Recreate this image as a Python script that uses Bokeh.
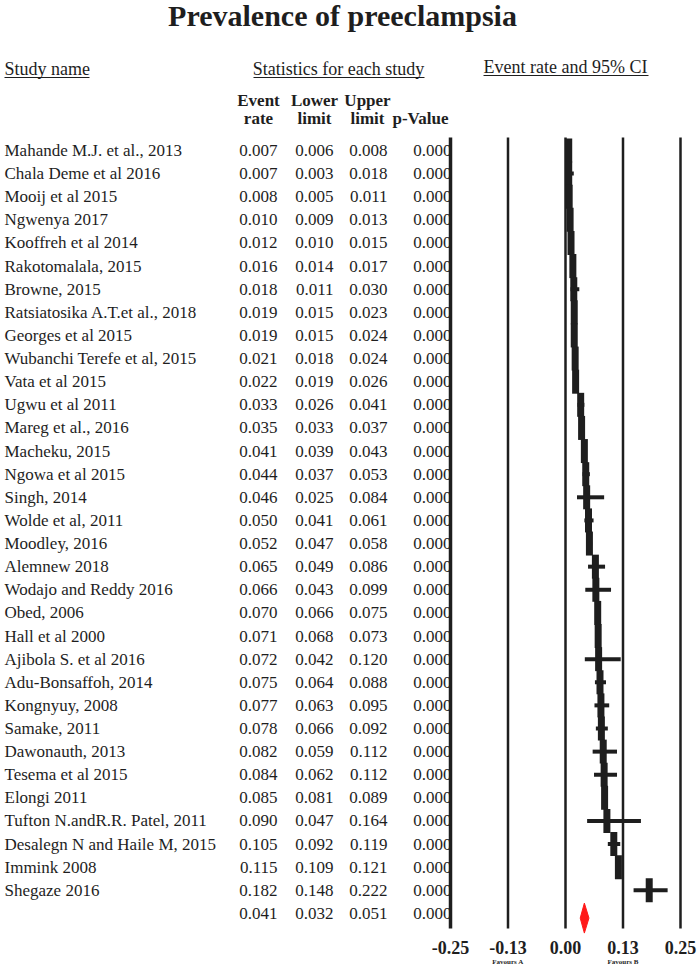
from bokeh.plotting import figure
from bokeh.models import Range1d, FixedTicker, LinearAxis
from bokeh.embed import file_html
from bokeh.resources import INLINE
from bokeh.core.properties import value

# ---------------- data ----------------
studies = [
    "Mahande M.J. et al., 2013", "Chala Deme et al 2016", "Mooij et al 2015",
    "Ngwenya 2017", "Kooffreh et al 2014", "Rakotomalala, 2015", "Browne, 2015",
    "Ratsiatosika A.T.et al., 2018", "Georges et al 2015",
    "Wubanchi Terefe et al, 2015", "Vata et al 2015", "Ugwu et al 2011",
    "Mareg et al., 2016", "Macheku, 2015", " Ngowa et al 2015", "Singh, 2014",
    "Wolde et al, 2011", "Moodley, 2016", "Alemnew 2018", "Wodajo and Reddy 2016",
    "Obed, 2006", "Hall et al 2000", "Ajibola S. et al 2016", "Adu-Bonsaffoh, 2014",
    "Kongnyuy, 2008", "Samake, 2011", "Dawonauth, 2013", "Tesema et al 2015",
    "Elongi 2011", "Tufton N.andR.R. Patel, 2011", "Desalegn N and Haile M, 2015",
    "Immink 2008", "Shegaze 2016",
]
event_rate = [0.007, 0.007, 0.008, 0.010, 0.012, 0.016, 0.018, 0.019, 0.019, 0.021,
              0.022, 0.033, 0.035, 0.041, 0.044, 0.046, 0.050, 0.052, 0.065, 0.066,
              0.070, 0.071, 0.072, 0.075, 0.077, 0.078, 0.082, 0.084, 0.085, 0.090,
              0.105, 0.115, 0.182]
lower_limit = [0.006, 0.003, 0.005, 0.009, 0.010, 0.014, 0.011, 0.015, 0.015, 0.018,
               0.019, 0.026, 0.033, 0.039, 0.037, 0.025, 0.041, 0.047, 0.049, 0.043,
               0.066, 0.068, 0.042, 0.064, 0.063, 0.066, 0.059, 0.062, 0.081, 0.047,
               0.092, 0.109, 0.148]
upper_limit = [0.008, 0.018, 0.011, 0.013, 0.015, 0.017, 0.030, 0.023, 0.024, 0.024,
               0.026, 0.041, 0.037, 0.043, 0.053, 0.084, 0.061, 0.058, 0.086, 0.099,
               0.075, 0.073, 0.120, 0.088, 0.095, 0.092, 0.112, 0.112, 0.089, 0.164,
               0.119, 0.121, 0.222]
p_value = ["0.000", "0.000", "0.000", "0.000", "0.000", "0.000", "0.000", "0.000",
           "0.000", "0.000", "0.000", "0.000", "0.000", "0.000", "0.000", "0.000",
           "0.000", "0.000", "0.000", "0.000", "0.000", "0.000", "0.000", "0.000",
           "0.000", "0.000", "0.000", "0.000", "0.000", "0.000", "0.000", "0.000",
           "0.000"]
summary_rate = 0.041
summary_lower = 0.032
summary_upper = 0.051
summary_p = "0.000"

tick_values = [-0.25, -0.125, 0.0, 0.125, 0.25]
tick_labels = ["-0.25", "-0.13", "0.00", "0.13", "0.25"]
favours_values = [-0.125, 0.125]
favours_labels = ["Favours A", "Favours B"]

# ---------------- layout helpers ----------------
FONT = "Liberation Serif"
INK = "#1e1e1e"
W, H = 699, 970
X0_PX, X_SCALE = 565.0, 460.0      # page px of value 0, px per unit
Y0_PX, ROW_PX = 150.0, 23.12       # page px of first row, px per row


def X(px):
    return (px - X0_PX) / X_SCALE


def Y(py):
    return (py - Y0_PX) / ROW_PX


frame_bottom_px = 934
lines_bottom_px = 928
p = figure(width=W, height=H, output_backend="svg", toolbar_location=None,
           x_range=Range1d(X(0), X(W)),
           y_range=Range1d(Y(frame_bottom_px), Y(0)),
           min_border_left=0, min_border_right=0, min_border_top=0,
           min_border_bottom=H - frame_bottom_px,
           x_axis_location="below", y_axis_location=None)
p.outline_line_color = None
p.xgrid.visible = False
p.ygrid.visible = False
p.background_fill_color = "white"
p.border_fill_color = "white"


def style_axis(ax, ticks, labels, size, standoff):
    ax.ticker = FixedTicker(ticks=ticks)
    ax.major_label_overrides = {v: s for v, s in zip(ticks, labels)}
    ax.axis_line_color = None
    ax.major_tick_line_color = None
    ax.minor_tick_line_color = None
    ax.major_tick_in = 0
    ax.major_tick_out = 0
    ax.major_label_text_font = FONT
    ax.major_label_text_font_style = "bold"
    ax.major_label_text_font_size = size
    ax.major_label_text_color = INK
    ax.major_label_standoff = standoff


style_axis(p.xaxis[0], tick_values, tick_labels, "18px", 6)
fav_axis = LinearAxis()
style_axis(fav_axis, favours_values, favours_labels, "7px", 1)
p.add_layout(fav_axis, "below")

n = len(studies)
rows = list(range(n))
sum_row = n

# title
p.text(x=[X(342)], y=[Y(15)], text=["Prevalence of preeclampsia"],
       text_font=value(FONT), text_font_style="bold", text_font_size="30px",
       text_align="center", text_baseline="middle", text_color=INK)

# group headers
hdr_kw = dict(text_font=value(FONT), text_font_size="18px", text_baseline="middle",
              text_color=INK)
p.text(x=[X(4)], y=[Y(68)], text=["Study name"], text_align="left", **hdr_kw)
p.text(x=[X(338)], y=[Y(68)], text=["Statistics for each study"], text_align="center", **hdr_kw)
p.text(x=[X(565)], y=[Y(66)], text=["Event rate and 95% CI"], text_align="center", **hdr_kw)
p.segment(x0=[X(4), X(253), X(483)], y0=[Y(77), Y(77), Y(75)],
          x1=[X(89), X(424), X(648)], y1=[Y(77), Y(77), Y(75)],
          line_color=INK, line_width=1)

# column headers (bold)
col_kw = dict(text_font=value(FONT), text_font_size="17px", text_font_style="bold",
              text_baseline="middle", text_color=INK, text_align="center")
p.text(x=[X(258), X(314), X(367)], y=[Y(100)] * 3, text=["Event", "Lower", "Upper"], **col_kw)
p.text(x=[X(258), X(314), X(367), X(420)], y=[Y(118)] * 4,
       text=["rate", "limit", "limit", "p-Value"], **col_kw)

# table body
body_kw = dict(text_font=value(FONT), text_font_size="17px", text_baseline="middle",
               text_color=INK)
p.text(x=[X(4)] * n, y=rows, text=studies, text_align="left", **body_kw)
all_rows = rows + [sum_row]
cols = [
    ([f"{v:.3f}" for v in event_rate + [summary_rate]], X(277)),
    ([f"{v:.3f}" for v in lower_limit + [summary_lower]], X(333)),
    ([f"{v:.3f}" for v in upper_limit + [summary_upper]], X(387)),
    (p_value + [summary_p], X(451)),
]
for txt, xr in cols:
    p.text(x=[xr] * len(txt), y=all_rows, text=txt, text_align="right", **body_kw)

# reference lines
p.segment(x0=tick_values[1:], y0=[Y(137)] * 4, x1=tick_values[1:], y1=[Y(lines_bottom_px)] * 4,
          line_color=INK, line_width=2.5)
p.segment(x0=[tick_values[0]], y0=[Y(137)], x1=[tick_values[0]], y1=[Y(lines_bottom_px)],
          line_color=INK, line_width=3.5)

# confidence intervals and point markers
p.segment(x0=lower_limit, y0=rows, x1=upper_limit, y1=rows, line_color=INK, line_width=4)
p.rect(x=event_rate, y=rows, width=7, height=24, width_units="screen",
       height_units="screen", fill_color=INK, line_color=None)

# summary diamond
half = 15 / ROW_PX
yc = sum_row + 0.2
p.patch(x=[summary_lower, summary_rate, summary_upper, summary_rate],
        y=[yc, yc - half, yc, yc + half],
        fill_color="#ff1a1a", line_color="#ff1a1a")

open("out.html", "w").write(file_html(p, INLINE))
